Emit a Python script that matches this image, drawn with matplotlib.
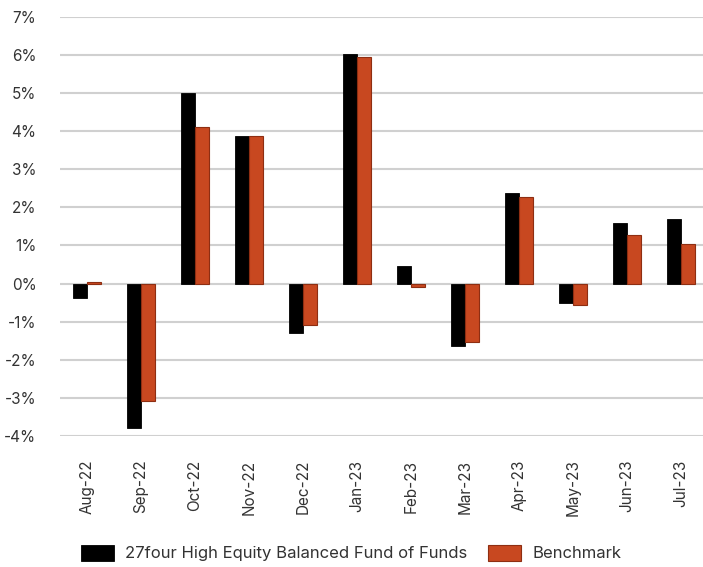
import matplotlib
matplotlib.use("Agg")
import matplotlib.pyplot as plt
import numpy as np
from matplotlib.ticker import FuncFormatter

categories = ["Aug-22", "Sep-22", "Oct-22", "Nov-22", "Dec-22", "Jan-23",
              "Feb-23", "Mar-23", "Apr-23", "May-23", "Jun-23", "Jul-23"]
fund = [-0.38, -3.80, 5.00, 3.86, -1.31, 6.03, 0.45, -1.63, 2.38, -0.52, 1.59, 1.68]
bench = [0.03, -3.07, 4.10, 3.86, -1.09, 5.95, -0.09, -1.53, 2.26, -0.56, 1.28, 1.03]
fund_label = "27four High Equity Balanced Fund of Funds"
bench_label = "Benchmark"
yticks = list(range(-4, 8))

plt.rcParams['font.family'] = ['Inter', 'DejaVu Sans']

W, H = 703, 567
fig = plt.figure(figsize=(W / 100, H / 100), dpi=100)
left = 60 / W
right = 708 / W
bottom = (H - 436) / H
top = (H - 16.7) / H
ax = fig.add_axes([left, bottom, right - left, top - bottom])

x = np.arange(len(categories))
bw = 0.26
ax.bar(x - bw / 2, fund, bw, color="#000000", edgecolor="#000000", linewidth=0.6,
       label=fund_label, zorder=3)
ax.bar(x + bw / 2, bench, bw, color="#C84820", edgecolor="#8E2E12", linewidth=0.8,
       label=bench_label, zorder=3)

ax.set_xlim(-0.5, len(categories) - 0.5)
ax.set_ylim(-4, 7)
ax.set_yticks(yticks)
ax.yaxis.set_major_formatter(FuncFormatter(lambda v, p: f"{int(v)}%"))
ax.grid(axis="y", color="#d0d0d0", linewidth=1.5, zorder=0)
ax.set_axisbelow(True)
for s in ax.spines.values():
    s.set_visible(False)
ax.set_xticks(x)
ax.set_xticklabels(categories, rotation=90)
ax.tick_params(axis="both", length=0, labelsize=11, colors="#333333")
ax.tick_params(axis="y", pad=17)
ax.tick_params(axis="x", pad=17)

leg = fig.legend(loc="center", bbox_to_anchor=(351 / W, (H - 553) / H), ncol=2,
                 frameon=False, fontsize=12, handlelength=2.0, handleheight=1.15,
                 columnspacing=1.25, handletextpad=0.65)
for t in leg.get_texts():
    t.set_color("#333333")

fig.savefig("out.png", dpi=100)
